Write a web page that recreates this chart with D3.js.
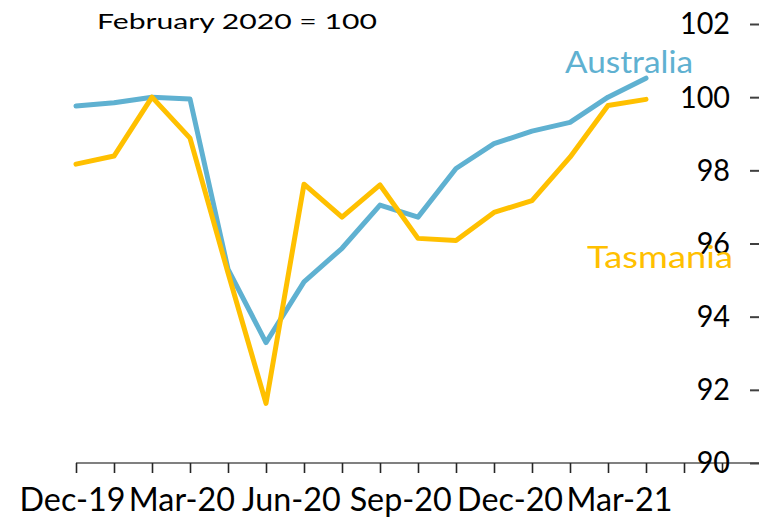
<!DOCTYPE html>
<html>
<head>
<meta charset="utf-8">
<script src="https://cdn.jsdelivr.net/npm/d3@7"></script>
<style>
  body { margin: 0; background: #fff; }
  svg { display: block; font-family: Lato, "DejaVu Sans", sans-serif; }
</style>
</head>
<body>
<script>
// DATA
// =============================================================================

const months = ["Dec-19", "Jan-20", "Feb-20", "Mar-20", "Apr-20", "May-20",
  "Jun-20", "Jul-20", "Aug-20", "Sep-20", "Oct-20", "Nov-20", "Dec-20",
  "Jan-21", "Feb-21", "Mar-21", "Apr-21", "May-21"];
const labelMonths = ["Dec-19", "Mar-20", "Jun-20", "Sep-20", "Dec-20", "Mar-21"];
const australia = [99.76, 99.85, 100.0, 99.95, 95.3, 93.29, 94.95, 95.87,
  97.05, 96.72, 98.05, 98.73, 99.07, 99.31, 100.0, 100.52];
const tasmania = [98.17, 98.39, 100.0, 98.88, 95.2, 91.63, 97.62, 96.72,
  97.6, 96.14, 96.08, 96.85, 97.17, 98.36, 99.77, 99.94];
const yTicks = [90, 92, 94, 96, 98, 100, 102];

// CONFIG VARS
// =============================================================================

const width = 759;
const height = 524;
const blue = "#5fb1d1";
const gold = "#ffc000";

// SCALES
// =============================================================================

const xScale = d3.scalePoint()
    .domain(months)
    .range([76, 722]);

// Excel squeezed the category labels a bit, so they get their own scale
const labelScale = d3.scalePoint()
    .domain(labelMonths)
    .range([72, 619]);

const yScale = d3.scaleLinear()
    .domain([90, 102])
    .range([463, 24]);

// INITIALIZE THE SVG
// =============================================================================

const svg = d3.select("body")
    .append("svg")
    .attr("width", width)
    .attr("height", height);

// squeeze a text horizontally so it ends up targetWidth wide
function squeeze(sel, ratio) {
  sel.each(function() {
    const w = this.getComputedTextLength();
    d3.select(this)
      .attr("textLength", w * ratio)
      .attr("lengthAdjust", "spacingAndGlyphs");
  });
}

// AXES
// =============================================================================

const xAxis = svg.append("g")
    .attr("transform", `translate(0,${yScale(90)})`)
    .call(d3.axisBottom(xScale).tickSize(10).tickSizeOuter(0).tickFormat(""));

xAxis.select(".domain")
    .attr("d", `M${xScale.range()[0]},0H${width}`)
    .attr("stroke", "#808080")
    .attr("stroke-width", 2);

xAxis.selectAll(".tick line")
    .attr("stroke", "#262626")
    .attr("stroke-width", 1.6);

const xLabels = svg.append("g")
    .attr("transform", "translate(0,511)")
    .call(d3.axisBottom(labelScale).tickSize(0));

xLabels.select(".domain").remove();
xLabels.selectAll("text")
    .attr("y", 0)
    .attr("dy", 0)
    .attr("fill", "#000")
    .style("font-size", "32px")
    .style("font-family", "Lato, sans-serif");

const yAxis = svg.append("g")
    .attr("transform", "translate(760,0)")
    .call(d3.axisLeft(yScale).tickValues(yTicks).tickSize(10).tickPadding(20));

yAxis.select(".domain").remove();
yAxis.selectAll(".tick line")
    .attr("stroke", "#404040")
    .attr("stroke-width", 2);
yAxis.selectAll("text")
    .attr("fill", "#000")
    .style("font-size", "31px")
    .style("font-family", "Lato, sans-serif");

// LINES
// =============================================================================

const line = d3.line()
    .x((d, i) => xScale(months[i]))
    .y(d => yScale(d));

svg.append("path")
    .datum(australia)
    .attr("d", line)
    .attr("fill", "none")
    .attr("stroke", blue)
    .attr("stroke-width", 5)
    .attr("stroke-linejoin", "round")
    .attr("stroke-linecap", "round");

svg.append("path")
    .datum(tasmania)
    .attr("d", line)
    .attr("fill", "none")
    .attr("stroke", gold)
    .attr("stroke-width", 5)
    .attr("stroke-linejoin", "round")
    .attr("stroke-linecap", "round");

// TEXT
// =============================================================================

const title = svg.append("text")
    .attr("x", 97)
    .attr("y", 28.5)
    .style("font-size", "21px")
    .text("February 2020 = 100");

const ausLabel = svg.append("text")
    .attr("x", 565)
    .attr("y", 73)
    .attr("fill", blue)
    .style("font-size", "31px")
    .text("Australia");

const tasLabel = svg.append("text")
    .attr("x", 587)
    .attr("y", 268)
    .attr("fill", gold)
    .style("font-size", "31px")
    .text("Tasmania");

// fit text widths to the reference
function fitTo(sel, target) {
  const w = sel.node().getComputedTextLength();
  return target / w;
}
squeeze(title, fitTo(title, 280));
squeeze(ausLabel, fitTo(ausLabel, 128));
squeeze(tasLabel, fitTo(tasLabel, 146));
const xRatio = fitTo(xLabels.select("text"), 106);
squeeze(xLabels.selectAll("text"), xRatio);
const yRatio = fitTo(yAxis.selectAll("text").filter(d => d === 102), 50);
squeeze(yAxis.selectAll("text"), yRatio);
</script>
</body>
</html>
